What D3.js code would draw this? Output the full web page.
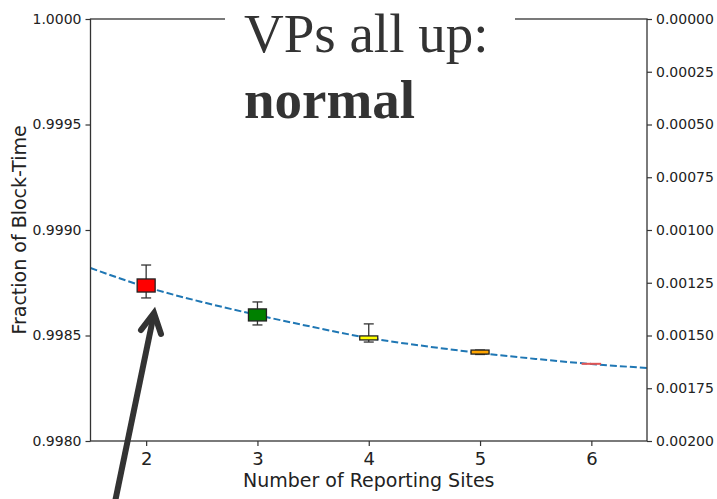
<!DOCTYPE html>
<html>
<head>
<meta charset="utf-8">
<script src="https://cdn.jsdelivr.net/npm/d3@7"></script>
<style>
  html, body { margin: 0; padding: 0; background: #fff; }
  svg { display: block; }
  .tick text { font-family: "DejaVu Sans", sans-serif; fill: #222; }
</style>
</head>
<body>
<svg id="chart" width="717" height="499"></svg>
<script>
// boxes per number of reporting sites
const sites = [2, 3, 4, 5, 6];
const boxColors = ['#ff0000', '#008000', '#ffff00', '#ffa500', '#e05555'];
const whiskerLow = [0.998678, 0.998550, 0.998469, 0.998410, 0.998364];
const q1 = [0.998706, 0.998569, 0.998479, 0.998412, 0.998365];
const medians = [0.998735, 0.998598, 0.998488, 0.998421, 0.998366];
const q3 = [0.998768, 0.998626, 0.998498, 0.998431, 0.998367];
const whiskerHigh = [0.998834, 0.998659, 0.998555, 0.998431, 0.998367];

// fitted dashed curve
const fitX = [1.5, 2, 2.5, 3, 3.5, 4, 4.5, 5, 5.5, 6, 6.5];
const fitY = [0.998820, 0.998730, 0.998659, 0.998597, 0.998540, 0.998488, 0.998450, 0.998417, 0.998389, 0.998365, 0.998346];

const leftTicks = [0.998, 0.9985, 0.999, 0.9995, 1.0];
const rightTicks = [0, 0.00025, 0.0005, 0.00075, 0.001, 0.00125, 0.0015, 0.00175, 0.002];
const xTicks = [2, 3, 4, 5, 6];

const svg = d3.select('#chart');
const m = { left: 90.5, right: 647, top: 19, bottom: 441 };

const x = d3.scaleLinear().domain([1.5, 6.5]).range([m.left, m.right]);
const y = d3.scaleLinear().domain([0.998, 1.0]).range([m.bottom, m.top]);
const yR = d3.scaleLinear().domain([0, 0.002]).range([m.top, m.bottom]);

const axisColor = '#333';

// fitted curve
const line = d3.line().x((d, i) => x(fitX[i])).y(d => y(d)).curve(d3.curveMonotoneX);
svg.append('path')
    .datum(fitY)
    .attr('d', line)
    .attr('fill', 'none')
    .attr('stroke', '#1f77b4')
    .attr('stroke-width', 2)
    .attr('stroke-dasharray', '7,3');

// box plots
const boxW = 18, capW = 10;
const boxes = svg.selectAll('.box').data(sites).enter().append('g').attr('class', 'box');
boxes.append('line')
    .attr('x1', d => x(d)).attr('x2', d => x(d))
    .attr('y1', (d, i) => y(whiskerHigh[i])).attr('y2', (d, i) => y(q3[i]))
    .attr('stroke', '#333').attr('stroke-width', 1.3);
boxes.append('line')
    .attr('x1', d => x(d)).attr('x2', d => x(d))
    .attr('y1', (d, i) => y(q1[i])).attr('y2', (d, i) => y(whiskerLow[i]))
    .attr('stroke', '#333').attr('stroke-width', 1.3);
boxes.filter((d, i) => i < 4).append('line')
    .attr('x1', d => x(d) - capW / 2).attr('x2', d => x(d) + capW / 2)
    .attr('y1', (d, i) => y(whiskerHigh[i])).attr('y2', (d, i) => y(whiskerHigh[i]))
    .attr('stroke', '#333').attr('stroke-width', 1.3);
boxes.filter((d, i) => i < 4).append('line')
    .attr('x1', d => x(d) - capW / 2).attr('x2', d => x(d) + capW / 2)
    .attr('y1', (d, i) => y(whiskerLow[i])).attr('y2', (d, i) => y(whiskerLow[i]))
    .attr('stroke', '#333').attr('stroke-width', 1.3);
boxes.append('rect')
    .attr('x', d => x(d) - boxW / 2)
    .attr('width', boxW)
    .attr('y', (d, i) => y(q3[i]))
    .attr('height', (d, i) => Math.max(0.5, y(q1[i]) - y(q3[i])))
    .attr('fill', (d, i) => boxColors[i])
    .attr('stroke', (d, i) => i < 4 ? '#222' : boxColors[i])
    .attr('stroke-width', (d, i) => i < 4 ? 1.3 : 1.5);

// axes
const gx = svg.append('g').attr('transform', `translate(0,${m.bottom})`)
    .call(d3.axisBottom(x).tickValues(xTicks).tickFormat(d3.format('d')).tickSize(5).tickPadding(6));
const gl = svg.append('g').attr('transform', `translate(${m.left},0)`)
    .call(d3.axisLeft(y).tickValues(leftTicks).tickFormat(d3.format('.4f')).tickSize(5).tickPadding(4));
const gr = svg.append('g').attr('transform', `translate(${m.right},0)`)
    .call(d3.axisRight(yR).tickValues(rightTicks).tickFormat(d3.format('.5f')).tickSize(5).tickPadding(4));
[gx, gl, gr].forEach(g => {
    g.select('.domain').remove();
    g.selectAll('.tick line').attr('stroke', axisColor).attr('stroke-width', 1.2);
});
gx.selectAll('.tick text').style('font-size', '18px');
gl.selectAll('.tick text').style('font-size', '14px');
gr.selectAll('.tick text').style('font-size', '14px');

// frame
svg.append('rect')
    .attr('x', m.left).attr('y', m.top)
    .attr('width', m.right - m.left).attr('height', m.bottom - m.top)
    .attr('fill', 'none').attr('stroke', axisColor).attr('stroke-width', 1.3);

// axis titles
svg.append('text')
    .attr('x', (m.left + m.right) / 2).attr('y', 487)
    .attr('text-anchor', 'middle')
    .style('font-family', '"DejaVu Sans", sans-serif').style('font-size', '19px').attr('fill', '#222')
    .text('Number of Reporting Sites');
svg.append('text')
    .attr('transform', `translate(26,${(m.top + m.bottom) / 2}) rotate(-90)`)
    .attr('text-anchor', 'middle')
    .style('font-family', '"DejaVu Sans", sans-serif').style('font-size', '19px').attr('fill', '#222')
    .text('Fraction of Block-Time');

// title overlay box
svg.append('rect')
    .attr('x', 225).attr('y', 0).attr('width', 290).attr('height', 135)
    .attr('fill', '#fff');
svg.append('text')
    .attr('x', 244).attr('y', 52)
    .style('font-family', '"Liberation Serif", "Times New Roman", serif').style('font-size', '55px')
    .attr('fill', '#333')
    .text('VPs all up:');
svg.append('text')
    .attr('x', 244).attr('y', 118)
    .style('font-family', '"Liberation Serif", "Times New Roman", serif').style('font-size', '55px')
    .style('font-weight', 'bold')
    .attr('fill', '#333')
    .text('normal');

// pointer arrow
const arrowColor = '#333';
svg.append('line')
    .attr('x1', 115).attr('y1', 502).attr('x2', 153.5).attr('y2', 316)
    .attr('stroke', arrowColor).attr('stroke-width', 6).attr('stroke-linecap', 'butt');
svg.append('path')
    .attr('d', 'M141,330 L154,313 L161,334')
    .attr('fill', 'none')
    .attr('stroke', arrowColor).attr('stroke-width', 6)
    .attr('stroke-linejoin', 'miter').attr('stroke-linecap', 'round');
</script>
</body>
</html>
